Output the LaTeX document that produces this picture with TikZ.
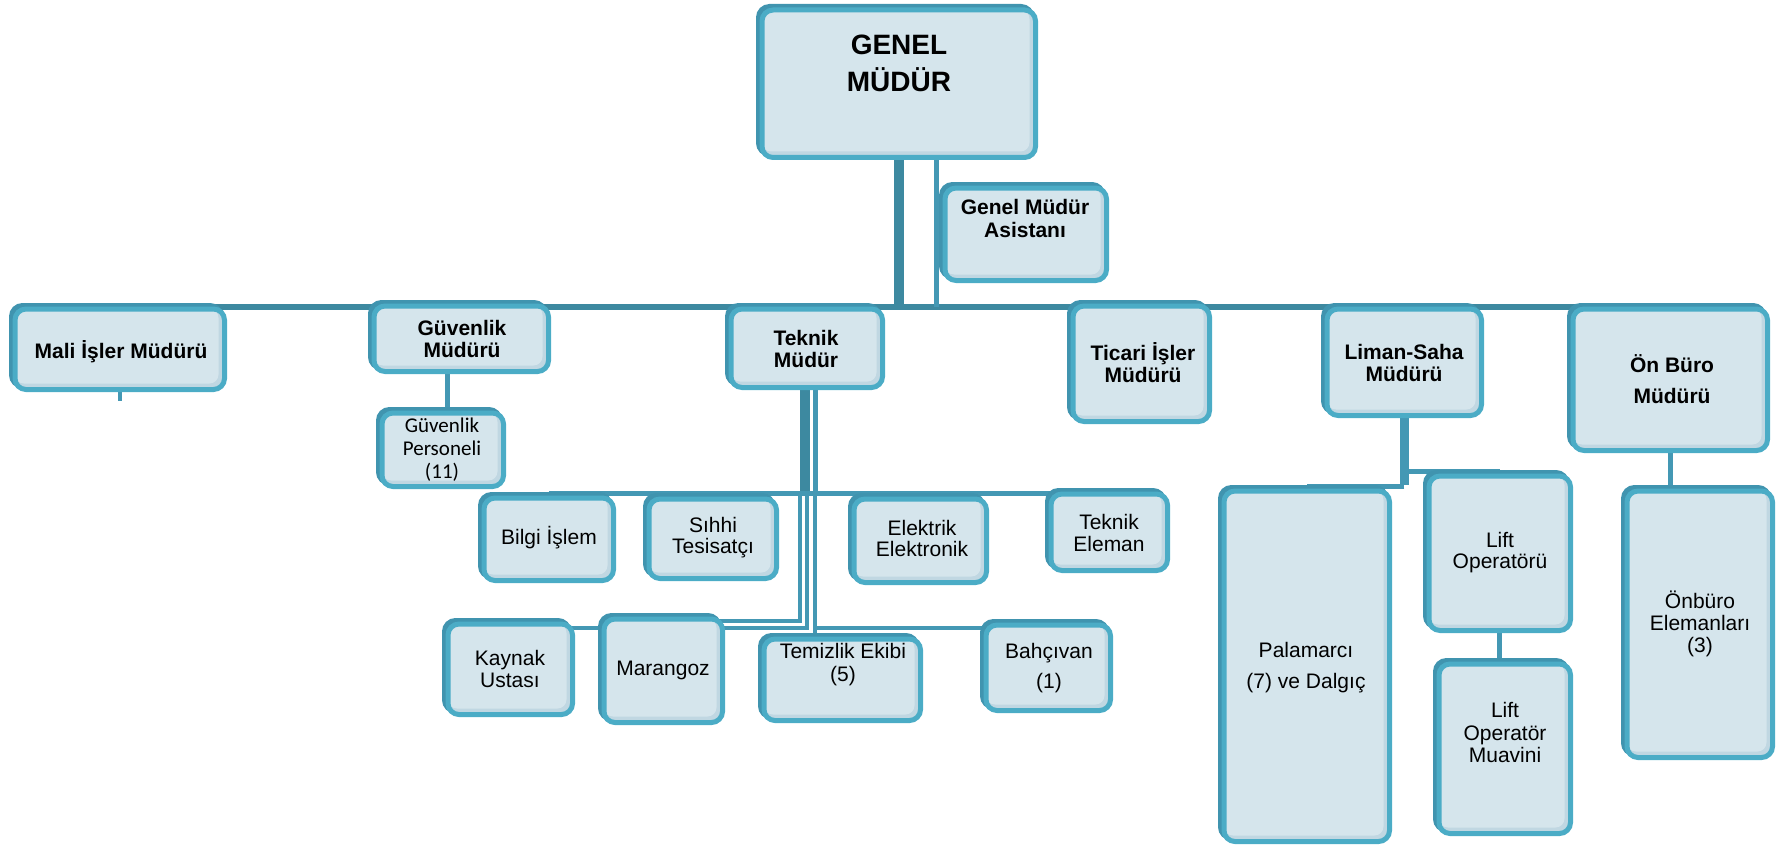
\documentclass[tikz,border=0pt]{standalone}
\usepackage{fontspec}
\setmainfont{Liberation Sans}
\newfontfamily\calfont{Carlito}
\usetikzlibrary{shadows}

\definecolor{boxedge}{RGB}{75,172,198}
\definecolor{boxshade}{RGB}{64,148,175}
\definecolor{boxfill}{RGB}{213,229,236}
\definecolor{boxband}{RGB}{192,215,226}
\definecolor{wire}{RGB}{68,152,180}
\definecolor{wiredark}{RGB}{61,137,160}

\pgfdeclarelayer{links}
\pgfsetlayers{links,main}

\tikzset{
  orgbox/.style={rounded corners=11pt, draw=boxedge, line width=5pt, fill=boxband,
    inner sep=0pt,
    copy shadow={shadow xshift=-3.5pt, shadow yshift=3.5pt, draw=boxshade,
      fill=boxshade, line width=5pt},
    path picture={\fill[boxfill, rounded corners=9pt]
      (path picture bounding box.north west) rectangle
      ([shift={(-6pt,6pt)}]path picture bounding box.south east);}},
  hd/.style={font=\bfseries\fontsize{21}{22}\selectfont, align=center, inner sep=0pt},
  tx/.style={font=\fontsize{21}{21.5}\selectfont, align=center, inner sep=0pt},
  bus/.style={draw=wiredark, line width=6pt},
  trunk/.style={draw=wiredark, line width=10pt},
  wire/.style={draw=wire, line width=5pt},
  fine/.style={draw=wire, line width=4pt},
}

% box given by its outer corners (left, top, right, bottom) in pixels
\newcommand\orgunit[5]{%
  \node[orgbox, minimum width={#4pt-#2pt-8.5pt}, minimum height={#5pt-#3pt-8.5pt}]
    (#1) at ({(#2+3.5+#4)/2},{(#3+3.5+#5)/2}) {};}

\begin{document}
\begin{tikzpicture}[x=1pt,y=-1pt]
\useasboundingbox (0,0) rectangle (1783,848);

% ---- boxes ----
\orgunit{gm}{756}{4}{1038}{160}
\orgunit{asst}{939}{182}{1109}{283}
\orgunit{mali}{9}{303}{227}{392}
\orgunit{guv}{368}{300}{551}{374}
\orgunit{guvp}{376}{407}{506}{489}
\orgunit{tek}{725}{303}{885}{390}
\orgunit{tic}{1067}{300}{1212}{424}
\orgunit{liman}{1321}{303}{1484}{418}
\orgunit{onb}{1567}{303}{1770}{453}
\orgunit{bilgi}{478}{492}{616}{583}
\orgunit{sihhi}{643}{493}{779}{581}
\orgunit{elek}{848}{493}{989}{585}
\orgunit{tekel}{1045}{488}{1170}{573}
\orgunit{kaynak}{442}{618}{575}{717}
\orgunit{mara}{598}{613}{725}{725}
\orgunit{temiz}{758}{633}{923}{723}
\orgunit{bahce}{980}{619}{1113}{713}
\orgunit{pala}{1218}{485}{1392}{844}
\orgunit{lift}{1423}{470}{1573}{633}
\orgunit{liftm}{1433}{658}{1573}{836}
\orgunit{onel}{1621}{485}{1775}{760}

% ---- labels ----
\node[hd, font=\bfseries\fontsize{28}{37}\selectfont] (gm-t) at (899,63.5) {GENEL\\MÜDÜR};
\node[hd, font=\bfseries\fontsize{21}{23}\selectfont] (asst-t) at (1025,218.5) {Genel Müdür\\Asistanı};
\node[hd] (mali-t) at (121,352) {Mali İşler Müdürü};
\node[hd] (guv-t) at (462,338.5) {Güvenlik\\Müdürü};
\node[hd] (tek-t) at (806,349) {Teknik\\Müdür};
\node[hd] (tic-t) at (1143,363) {Ticari İşler\\Müdürü};
\node[hd] (liman-t) at (1404,362.5) {Liman-Saha\\Müdürü};
\node[hd] (onb-t) at (1672,379.5) {Ön Büro\\[9pt]Müdürü};
\node[tx, font=\calfont\fontsize{21}{23}\selectfont] (guvp-t) at (442,450) {Güvenlik\\Personeli\\(11)};
\node[tx] (bilgi-t) at (549,538) {Bilgi İşlem};
\node[tx] (sihhi-t) at (713,537.5) {Sıhhi\\Tesisatçı};
\node[tx] (elek-t) at (922,538.5) {Elektrik\\Elektronik};
\node[tx] (tekel-t) at (1109,533) {Teknik\\Eleman};
\node[tx] (kaynak-t) at (510,669) {Kaynak\\Ustası};
\node[tx] (mara-t) at (663,670) {Marangoz};
\node[tx, font=\fontsize{21}{23}\selectfont] (temiz-t) at (843,664.5) {Temizlik Ekibi\\(5)};
\node[tx] (bahce-t) at (1049,668) {Bahçıvan\\[8.5pt](1)};
\node[tx] (pala-t) at (1306,667.5) {Palamarcı\\[9.5pt](7) ve Dalgıç};
\node[tx] (lift-t) at (1500,552.5) {Lift\\Operatörü};
\node[tx, font=\fontsize{21}{22.5}\selectfont] (liftm-t) at (1505,732.5) {Lift\\Operatör\\Muavini};
\node[tx, font=\fontsize{21}{22}\selectfont] (onel-t) at (1700,623.5) {Önbüro\\Elemanları\\(3)};

% ---- connectors ----
\begin{pgfonlayer}{links}
  \coordinate (busy) at (0,307);
  \coordinate (row2y) at (0,493);
  \coordinate (low1) at (0,621);
  \coordinate (low2) at (0,628);
  \coordinate (lifty) at (0,471);
  \coordinate (palay) at (0,486);

  % top level
  \draw[bus] (mali.center |- busy) -- (onb.center |- busy);
  \draw[trunk] (gm.south) -- (gm.south |- busy);
  \path ([xshift=-6pt]asst.west) coordinate (asst-line);
  \draw[wire] (gm.south -| asst-line) -- (busy -| asst-line);
  \draw[fine] (mali.center |- busy) -- ([yshift=-9pt]mali.south);

  % security
  \path ([xshift=5pt]guvp.north) coordinate (gp-top);
  \draw[wire] (guv.south -| gp-top) -- (gp-top);

  % technical
  \path (tek.south) ++(-1.75pt,0) coordinate (tk-a) ++(10pt,0) coordinate (tk-b);
  \draw[trunk] (tk-a) -- (tk-a |- row2y);
  \draw[wire] (tk-b) -- (tk-b |- row2y);
  \draw[wire] (bilgi.center |- row2y) -- (tekel.center |- row2y);
  \path (tek.south |- row2y) ++(-6.75pt,0) coordinate (dn-a)
        ++(7pt,0) coordinate (dn-b) ++(8pt,0) coordinate (dn-c);
  \draw[fine] (dn-a) -- (dn-a |- low1) -- (mara.center |- low1);
  \draw[fine] (dn-b) -- (dn-b |- low2) -- (kaynak.center |- low2);
  \draw[fine] (dn-c) -- (temiz.north -| dn-c);
  \draw[fine] (dn-c |- low2) -- (bahce.center |- low2);

  % harbour
  \draw[draw=wire, line width=9pt] (liman.south) -- ([yshift=1pt]liman.south |- palay);
  \draw[wire] (liman.south |- lifty) -- (lift.center |- lifty);
  \draw[wire] (liman.south |- palay) -- (pala.center |- palay);
  \draw[wire] (lift.south) -- (lift.south |- liftm.north);

  % front office
  \draw[wire] (onb.south) -- (onb.south |- onel.north);
\end{pgfonlayer}
\end{tikzpicture}
\end{document}
